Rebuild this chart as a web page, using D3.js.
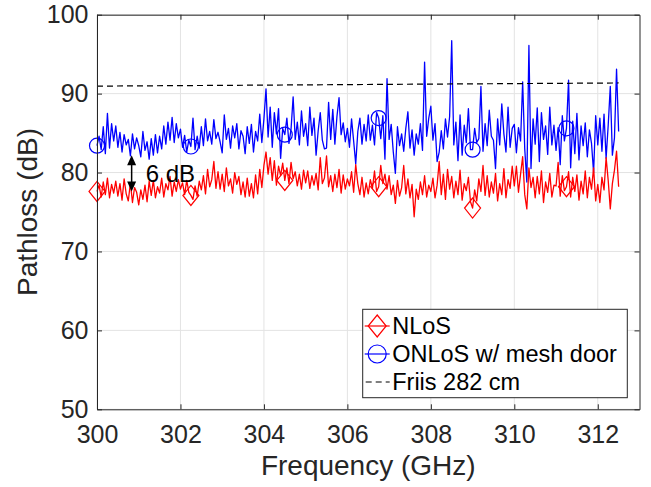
<!DOCTYPE html>
<html>
<head>
<meta charset="utf-8">
<script src="https://cdn.jsdelivr.net/npm/d3@7"></script>
<style>
  body { margin: 0; background: #fff; }
  svg { display: block; }
</style>
</head>
<body>
<div id="chart"></div>
<script>
// sample grid of the measurement (GHz)
var freqStart = 300, freqStep = 0.05;

var nlos = [
  77.6, 78.4, 76.9, 78.8, 77.2, 79.3, 76.8, 78.5, 77.4, 78.9,
  77.0, 78.6, 76.5, 79.2, 77.3, 76.4, 78.7, 76.2, 78.1, 77.5,
  75.9, 77.8, 76.6, 78.4, 76.3, 78.9, 77.1, 79.0, 76.8, 78.2,
  77.4, 79.3, 76.9, 78.6, 77.8, 79.5, 77.0, 78.8, 77.6, 79.1,
  77.9, 78.7, 77.2, 79.0, 77.5, 77.1, 76.6, 78.3, 77.0, 78.9,
  77.8, 79.6, 77.3, 80.4, 78.2, 79.1, 81.4, 78.0, 80.1, 77.9,
  79.8, 77.6, 80.6, 78.3, 79.2, 77.4, 80.0, 78.5, 79.5, 77.2,
  78.8, 76.9, 79.3, 77.0, 78.6, 76.8, 79.7, 77.3, 80.4, 78.1,
  80.9, 82.6, 79.8, 81.9, 79.0, 81.5, 78.4, 80.8, 79.6, 81.2,
  79.0, 80.6, 78.6, 81.3, 79.2, 80.1, 78.3, 79.8, 77.9, 80.3,
  78.7, 80.2, 78.0, 79.6, 78.4, 79.9, 77.8, 81.9, 78.6, 79.3,
  82.1, 78.2, 79.6, 77.6, 79.8, 78.1, 80.4, 77.4, 79.7, 77.9,
  79.2, 78.3, 80.1, 77.5, 81.0, 78.6, 77.2, 79.4, 76.9, 78.7,
  77.3, 79.1, 78.0, 80.2, 77.6, 78.2, 80.9, 78.6, 79.8, 77.9,
  79.6, 77.2, 78.4, 76.1, 79.0, 77.0, 78.1, 80.9, 77.3, 79.2,
  76.8, 78.5, 74.4, 77.9, 76.6, 78.8, 77.2, 79.6, 76.9, 78.4,
  77.6, 79.3, 76.8, 78.4, 81.4, 77.2, 79.8, 76.6, 80.4, 77.9,
  79.5, 76.8, 78.9, 77.2, 80.3, 76.5, 78.6, 77.7, 79.4, 76.3,
  75.5, 77.8, 76.4, 79.2, 77.6, 80.9, 77.1, 79.6, 76.9, 78.8,
  77.4, 79.9, 76.4, 78.6, 77.2, 80.5, 76.8, 79.1, 78.0, 80.8,
  78.3, 80.8, 77.5, 79.8, 82.0, 77.2, 75.4, 80.6, 78.1, 79.4,
  76.8, 79.5, 77.3, 80.2, 76.2, 78.8, 77.5, 79.9, 76.9, 78.4,
  78.3, 81.3, 77.0, 79.6, 77.7, 78.2, 80.1, 76.9, 79.4, 77.6,
  79.7, 76.5, 78.9, 77.3, 80.2, 76.8, 79.4, 77.9, 80.6, 76.4,
  78.5, 76.2, 79.4, 77.8, 81.9, 79.0, 75.4, 78.6, 80.3, 82.7, 78.2
];

var onlos = [
  83.4, 84.6, 82.9, 85.8, 82.4, 87.5, 83.1, 86.2, 84.0, 85.9,
  83.2, 85.1, 82.6, 84.8, 83.5, 84.2, 82.1, 84.9, 83.0, 84.4,
  83.4, 82.0, 85.2, 82.8, 83.9, 81.7, 84.3, 82.2, 84.8, 82.5,
  84.6, 83.0, 85.9, 83.6, 86.4, 84.1, 87.0, 83.8, 86.2, 84.4,
  85.5, 83.2, 84.7, 82.6, 84.1, 83.3, 86.9, 82.9, 84.6, 83.1,
  85.8, 83.4, 86.8, 84.0, 85.2, 83.6, 86.7, 84.3, 85.1, 83.9,
  82.5, 87.3, 84.2, 85.6, 83.1, 85.9, 84.4, 86.2, 83.0, 85.3,
  84.6, 82.4, 85.8, 83.7, 86.1, 82.6, 85.2, 84.0, 87.4, 83.8,
  86.8, 90.6, 84.5, 88.3, 83.2, 87.6, 84.9, 88.1, 81.8, 85.6,
  84.8, 86.9, 83.7, 85.5, 89.6, 84.2, 86.4, 83.5, 87.8, 84.6,
  86.2, 83.4, 88.3, 84.7, 86.9, 82.2, 85.3, 87.6, 84.1, 83.0,
  83.1, 88.9, 84.2, 88.0, 83.6, 87.1, 89.5, 84.8, 86.3, 83.9,
  85.6, 83.2, 86.8, 84.0, 81.1, 85.2, 86.9, 83.6, 86.1, 84.0,
  87.3, 84.1, 86.0, 83.5, 87.6, 86.9, 84.3, 87.2, 81.7, 91.9,
  84.2, 86.1, 82.6, 79.9, 85.8, 83.4, 84.9, 82.7, 85.6, 87.7,
  83.1, 85.4, 82.2, 84.9, 83.6, 86.2, 82.8, 94.0, 84.6, 86.9,
  88.4, 84.1, 86.2, 81.4, 82.6, 85.3, 83.0, 86.8, 84.5, 87.1,
  96.7, 83.5, 86.4, 81.5, 87.3, 82.2, 86.0, 83.8, 88.1, 82.9,
  82.9, 85.6, 83.8, 84.3, 90.9, 82.7, 86.2, 83.4, 87.9, 84.6,
  84.1, 80.5, 86.8, 83.5, 88.7, 84.9, 82.6, 88.3, 83.2, 85.6,
  86.1, 82.5, 85.7, 84.0, 91.5, 83.0, 78.8, 96.1, 80.5, 86.8,
  83.6, 88.2, 81.4, 87.6, 84.2, 85.9, 82.3, 88.3, 83.5, 86.0,
  82.8, 85.7, 81.0, 87.2, 84.0, 85.6, 91.7, 80.6, 86.5, 82.4,
  87.5, 81.6, 85.9, 83.4, 86.3, 82.0, 85.4, 83.7, 80.0, 87.2,
  83.5, 86.9, 82.7, 87.4, 81.8, 86.0, 90.9, 82.2, 84.4, 93.1, 85.2
];

var markerIdx = [0, 45, 90, 135, 180, 225];
var friisFreq = [300, 312.5];
var friisLoss = [90.95, 91.35];

var xTicks = [300, 302, 304, 306, 308, 310, 312];
var yTicks = [50, 60, 70, 80, 90, 100];
var legendLabels = ['NLoS', 'ONLoS w/ mesh door', 'Friis 282 cm'];

var arrowFreq = 300.83, arrowTop = 82.2, arrowBottom = 77.6;
var arrowText = '6 dB';

var W = 651, H = 487;
var margin = { top: 14.7, right: 11.5, bottom: 77.7, left: 97 };
var font = '"Liberation Sans", Arial, Helvetica, sans-serif';
var axisColor = '#262626';

var x = d3.scaleLinear().domain([300, 313]).range([margin.left, W - margin.right]);
var y = d3.scaleLinear().domain([50, 100]).range([H - margin.bottom, margin.top]);

var svg = d3.select('#chart').append('svg')
  .attr('width', W).attr('height', H)
  .attr('font-family', font);

// grid
var grid = svg.append('g');
grid.selectAll('.gx').data(xTicks).enter().append('line')
  .attr('x1', function(d) { return x(d); }).attr('x2', function(d) { return x(d); })
  .attr('y1', y(50)).attr('y2', y(100))
  .attr('stroke', '#e3e3e3').attr('stroke-width', 1);
grid.selectAll('.gy').data(yTicks).enter().append('line')
  .attr('y1', function(d) { return y(d); }).attr('y2', function(d) { return y(d); })
  .attr('x1', x(300)).attr('x2', x(313))
  .attr('stroke', '#e3e3e3').attr('stroke-width', 1);

var freqOf = function(i) { return freqStart + i * freqStep; };

var line = d3.line()
  .x(function(d, i) { return x(freqOf(i)); })
  .y(function(d) { return y(d); });

var plot = svg.append('g');

var diamond = function(cx, cy, w, h) {
  return 'M' + cx + ',' + (cy - h) + 'L' + (cx + w) + ',' + cy + 'L' + cx + ',' + (cy + h) + 'L' + (cx - w) + ',' + cy + 'Z';
};

// ONLoS first so that NLoS sits over it
plot.append('path').datum(onlos).attr('d', line)
  .attr('fill', 'none').attr('stroke', '#0000ff').attr('stroke-width', 1.3)
  .attr('stroke-linejoin', 'round');
plot.append('path').datum(nlos).attr('d', line)
  .attr('fill', 'none').attr('stroke', '#ff0000').attr('stroke-width', 1.3)
  .attr('stroke-linejoin', 'round');

plot.selectAll('.circ').data(markerIdx).enter().append('circle')
  .attr('cx', function(i) { return x(freqOf(i)); })
  .attr('cy', function(i) { return y(onlos[i]); })
  .attr('r', 7.5).attr('fill', 'none').attr('stroke', '#0000ff').attr('stroke-width', 1.2);
plot.selectAll('.diam').data(markerIdx).enter().append('path')
  .attr('d', function(i) { return diamond(x(freqOf(i)), y(nlos[i]), 8, 10); })
  .attr('fill', 'none').attr('stroke', '#ff0000').attr('stroke-width', 1.2);

var friisLine = d3.line()
  .x(function(d, i) { return x(friisFreq[i]); })
  .y(function(d) { return y(d); });
plot.append('path').datum(friisLoss).attr('d', friisLine)
  .attr('fill', 'none').attr('stroke', '#000').attr('stroke-width', 1.2)
  .attr('stroke-dasharray', '6,4');

// 6 dB annotation
var ax = x(arrowFreq), ay1 = y(arrowTop), ay2 = y(arrowBottom);
plot.append('line').attr('x1', ax).attr('x2', ax).attr('y1', ay1 + 8).attr('y2', ay2 - 8)
  .attr('stroke', '#000').attr('stroke-width', 1.5);
plot.append('path').attr('d', 'M' + ax + ',' + ay1 + 'l4.5,10l-9,0Z').attr('fill', '#000');
plot.append('path').attr('d', 'M' + ax + ',' + ay2 + 'l4.5,-10l-9,0Z').attr('fill', '#000');
plot.append('text').attr('x', ax + 14).attr('y', (ay1 + ay2) / 2 + 9)
  .attr('font-size', 24).attr('fill', '#000').text(arrowText);

// axes (box on, ticks inside)
var xAxis = d3.axisBottom(x).tickValues(xTicks).tickSize(-5).tickSizeOuter(0).tickPadding(16);
var yAxis = d3.axisLeft(y).tickValues(yTicks).tickSize(-5).tickSizeOuter(0).tickPadding(8.5);
var xTop = d3.axisTop(x).tickValues(xTicks).tickSize(-5).tickSizeOuter(0).tickFormat('');
var yRight = d3.axisRight(y).tickValues(yTicks).tickSize(-5).tickSizeOuter(0).tickFormat('');

var gx = svg.append('g').attr('transform', 'translate(0,' + y(50) + ')').call(xAxis);
var gy = svg.append('g').attr('transform', 'translate(' + x(300) + ',0)').call(yAxis);
var gt = svg.append('g').attr('transform', 'translate(0,' + y(100) + ')').call(xTop);
var gr = svg.append('g').attr('transform', 'translate(' + x(313) + ',0)').call(yRight);

[gx, gy, gt, gr].forEach(function(g) {
  g.selectAll('path.domain').attr('stroke', axisColor).attr('stroke-width', 1);
  g.selectAll('.tick line').attr('stroke', axisColor).attr('stroke-width', 1);
  g.selectAll('text').attr('font-size', 25).attr('fill', axisColor).attr('font-family', font);
});

svg.append('text').attr('x', (x(300) + x(313)) / 2).attr('y', 475)
  .attr('text-anchor', 'middle').attr('font-size', 28).attr('fill', axisColor)
  .text('Frequency (GHz)');
svg.append('text').attr('transform', 'translate(37,' + (y(50) + y(100)) / 2 + ') rotate(-90)')
  .attr('text-anchor', 'middle').attr('font-size', 28).attr('fill', axisColor)
  .text('Pathloss (dB)');

// legend
var leg = svg.append('g').attr('transform', 'translate(362.7,309.3)');
leg.append('rect').attr('width', 264.6).attr('height', 88.4)
  .attr('fill', '#fff').attr('stroke', axisColor).attr('stroke-width', 1);
var rows = [16.7, 44.7, 72.7];
legendLabels.forEach(function(label, k) {
  var ry = rows[k];
  var seg = leg.append('line').attr('x1', 2).attr('x2', 27).attr('y1', ry).attr('y2', ry)
    .attr('stroke-width', 1.2);
  if (k === 0) {
    seg.attr('stroke', '#ff0000');
    leg.append('path').attr('d', diamond(14.5, ry, 9, 11))
      .attr('fill', 'none').attr('stroke', '#ff0000').attr('stroke-width', 1.2);
  } else if (k === 1) {
    seg.attr('stroke', '#0000ff');
    leg.append('circle').attr('cx', 14.5).attr('cy', ry).attr('r', 9)
      .attr('fill', 'none').attr('stroke', '#0000ff').attr('stroke-width', 1.2);
  } else {
    seg.attr('stroke', '#000').attr('stroke-dasharray', '6,4').attr('x1', 3);
  }
  leg.append('text').attr('x', 29.5).attr('y', ry + 8.5)
    .attr('font-size', 23.5).attr('fill', '#000').text(label);
});
</script>
</body>
</html>
